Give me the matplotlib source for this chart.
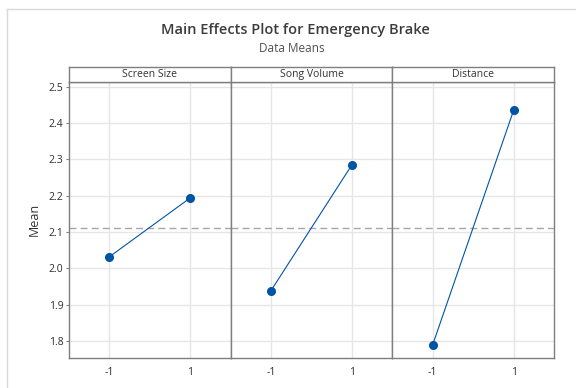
import matplotlib
matplotlib.use("Agg")
import matplotlib.pyplot as plt
from matplotlib.lines import Line2D

plt.rcParams['font.family'] = ['Open Sans', 'DejaVu Sans']

# data
factors = ["Screen Size", "Song Volume", "Distance"]
levels = [-1, 1]
means_screen = [2.032, 2.194]
means_volume = [1.939, 2.285]
means_distance = [1.790, 2.435]
grand_mean = 2.1125
yticks = [1.8, 1.9, 2.0, 2.1, 2.2, 2.3, 2.4, 2.5]

all_means = [means_screen, means_volume, means_distance]

W, H = 576, 388
fig = plt.figure(figsize=(W / 100, H / 100), dpi=100)

# outer frame (cut off on right and bottom like the screenshot)
fig.add_artist(Line2D([7 / W, 7 / W], [0, 1 - 9 / H], color="#d9d9d9", lw=1))
fig.add_artist(Line2D([7 / W, 1], [1 - 9 / H, 1 - 9 / H], color="#d9d9d9", lw=1))

fig.text(295 / W, 1 - 30 / H, "Main Effects Plot for Emergency Brake", ha="center", va="center",
         fontsize=10.5, fontweight="semibold", color="#3c3c3c")
fig.text(292 / W, 1 - 48.5 / H, "Data Means", ha="center", va="center", fontsize=8.5, color="#505050")

left_px, right_px = 69, 554
top_px, bottom_px = 81.7, 357.7
strip_top = 66.7
pw = (right_px - left_px) / 3
edge = "#7f7f7f"

for i, name in enumerate(factors):
	x0 = left_px + i * pw
	ax = fig.add_axes([x0 / W, 1 - bottom_px / H, pw / W, (bottom_px - top_px) / H])
	ax.set_xlim(-2, 2)
	ax.set_ylim(1.754, 2.514)
	ax.set_xticks(levels)
	ax.set_xticklabels([str(l) for l in levels])
	ax.set_yticks(yticks)
	ax.grid(True, color="#e6e6e6", lw=1)
	ax.set_axisbelow(True)
	for sp in ax.spines.values():
		sp.set_color(edge)
		sp.set_linewidth(1)
	ax.tick_params(axis="x", length=0, pad=7, labelsize=7.5, colors="#2e2e2e")
	if i == 0:
		ax.tick_params(axis="y", length=2, width=0.8, color=edge, pad=2, labelsize=7.5, labelcolor="#2e2e2e")
		ax.set_yticklabels(["%.1f" % v for v in yticks])
		ax.set_ylabel("Mean", fontsize=9, color="#333333", labelpad=6)
	else:
		ax.tick_params(axis="y", length=0, labelleft=False)
	ax.axhline(grand_mean, color="#a6a6a6", lw=1, ls=(0, (5, 3)), zorder=2)
	ax.plot(levels, all_means[i], color="#0054a6", lw=0.8, marker="o", markersize=5.5, zorder=3)

	# strip header
	sax = fig.add_axes([x0 / W, 1 - top_px / H, pw / W, (top_px - strip_top) / H])
	sax.set_xticks([])
	sax.set_yticks([])
	for sp in sax.spines.values():
		sp.set_color(edge)
		sp.set_linewidth(1)
	sax.text(0.5, 0.45, name, ha="center", va="center", fontsize=7.5, color="#333333", transform=sax.transAxes)

fig.savefig("out.png", dpi=100)
